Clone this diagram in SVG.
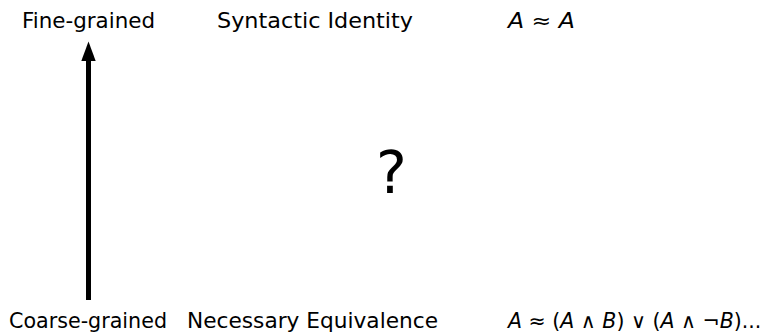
<svg xmlns="http://www.w3.org/2000/svg" width="765" height="334" viewBox="0 0 765 334">
<style>
text{font-family:"DejaVu Sans","Liberation Sans",sans-serif;font-size:21px;fill:#000}
.m{font-style:italic}
</style>
<rect width="765" height="334" fill="#fff"/>
<g id="connectors">
<line x1="88.5" y1="300" x2="88.5" y2="58" stroke="#000" stroke-width="5"/>
<path d="M88.5 41.5 L95.7 61 L81.3 61 Z" fill="#000"/>
</g>
<g id="fine"><text x="22" y="27.7" textLength="133" lengthAdjust="spacingAndGlyphs">Fine-grained</text></g>
<g id="syntactic"><text x="217" y="27.7" textLength="196" lengthAdjust="spacingAndGlyphs">Syntactic Identity</text></g>
<g id="formula-top"><text class="m" x="508" y="27.7" textLength="67" lengthAdjust="spacingAndGlyphs">A ≈ A</text></g>
<g id="question"><text x="376" y="193" style="font-size:58px">?</text></g>
<g id="coarse"><text x="9" y="328" textLength="158" lengthAdjust="spacingAndGlyphs">Coarse-grained</text></g>
<g id="necessary"><text x="187" y="328" textLength="251" lengthAdjust="spacingAndGlyphs">Necessary Equivalence</text></g>
<g id="formula-bottom"><text x="508" y="328" style="font-size:20.5px"><tspan class="m">A</tspan> ≈ (<tspan class="m">A</tspan> ∧ <tspan class="m">B</tspan>) ∨ (<tspan class="m">A</tspan> ∧ ¬<tspan class="m">B</tspan>)...</text></g>
</svg>
